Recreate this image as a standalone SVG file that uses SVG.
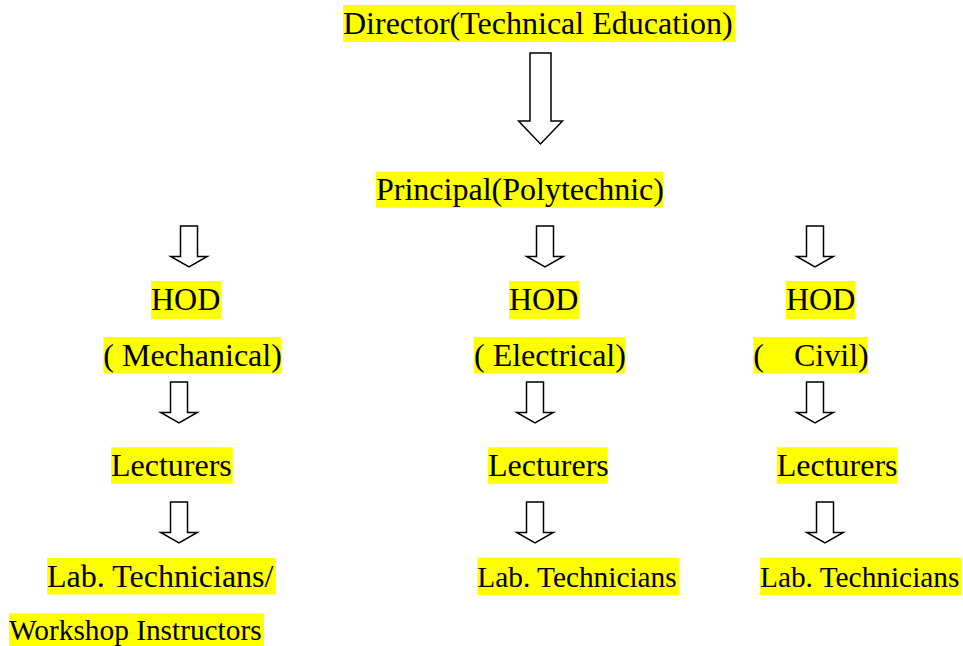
<svg xmlns="http://www.w3.org/2000/svg" xmlns:xlink="http://www.w3.org/1999/xlink" width="963" height="646" viewBox="0 0 963 646">
<style>
.hl{fill:#ffff00}
.t{font-family:"Liberation Serif","Times New Roman",serif;font-size:32px;fill:#000}
.s{font-size:29.33px}
.arr{fill:#fff;stroke:#000;stroke-width:1.5;stroke-linejoin:miter}
</style>
<defs>
<path id="sa" class="arr" d="M-8.5,0 H8.5 V30.5 H18.3 L0,41 L-18.3,30.5 H-8.5 Z"/>
</defs>
<rect width="963" height="646" fill="#fff"/>
<g id="connectors">
<path class="arr" d="M530,53 H551 V121 H562.5 L540.5,144 L518.5,121 H530 Z"/>
<use xlink:href="#sa" x="189" y="226"/>
<use xlink:href="#sa" x="179" y="382"/>
<use xlink:href="#sa" x="179" y="502"/>
<use xlink:href="#sa" x="545" y="226"/>
<use xlink:href="#sa" x="535" y="382"/>
<use xlink:href="#sa" x="535" y="502"/>
<use xlink:href="#sa" x="815" y="226"/>
<use xlink:href="#sa" x="815" y="382"/>
<use xlink:href="#sa" x="825" y="502"/>
</g>
<g id="director">
<rect class="hl" x="343" y="5" width="392" height="37"/>
<text class="t" x="343" y="33.5">Director(Technical Education)</text>
</g>
<g id="principal">
<rect class="hl" x="376" y="171.7" width="287" height="36"/>
<text class="t" x="376" y="200">Principal(Polytechnic)</text>
</g>
<g id="hod-mech">
<rect class="hl" x="151" y="281" width="70" height="38"/>
<text class="t" x="151" y="309.5">HOD</text>
<rect class="hl" x="103.3" y="337" width="177.7" height="36.5"/>
<text class="t" x="103.3" y="365.5">( Mechanical)</text>
</g>
<g id="lect-mech">
<rect class="hl" x="111" y="447.3" width="121.7" height="36.5"/>
<text class="t" x="111" y="476">Lecturers</text>
</g>
<g id="lab-mech">
<rect class="hl" x="47" y="558" width="229" height="36.5"/>
<text class="t" x="47" y="586.8">Lab. Technicians/</text>
<rect class="hl" x="9" y="613.3" width="255" height="33"/>
<text class="t s" x="9" y="640">Workshop Instructors</text>
</g>
<g id="hod-elec">
<rect class="hl" x="509" y="281" width="70" height="38"/>
<text class="t" x="509" y="309.5">HOD</text>
<rect class="hl" x="474" y="337" width="151" height="36.5"/>
<text class="t" x="474" y="365.5">( Electrical)</text>
</g>
<g id="lect-elec">
<rect class="hl" x="488" y="447.3" width="119.7" height="36.5"/>
<text class="t" x="488" y="476">Lecturers</text>
</g>
<g id="lab-elec">
<rect class="hl" x="477.3" y="557.7" width="201.7" height="37.3"/>
<text class="t s" x="477.3" y="586.7">Lab. Technicians</text>
</g>
<g id="hod-civil">
<rect class="hl" x="786" y="281" width="69" height="38"/>
<text class="t" x="786" y="309.5">HOD</text>
<rect class="hl" x="753.3" y="337" width="114.4" height="36.5"/>
<text class="t" x="753.3" y="365.5">(<tspan x="794">Civil)</tspan></text>
</g>
<g id="lect-civil">
<rect class="hl" x="776.7" y="447.3" width="121" height="36.5"/>
<text class="t" x="776.7" y="476">Lecturers</text>
</g>
<g id="lab-civil">
<rect class="hl" x="760" y="557.7" width="201.7" height="37.3"/>
<text class="t s" x="760" y="586.7">Lab. Technicians</text>
</g>
</svg>
